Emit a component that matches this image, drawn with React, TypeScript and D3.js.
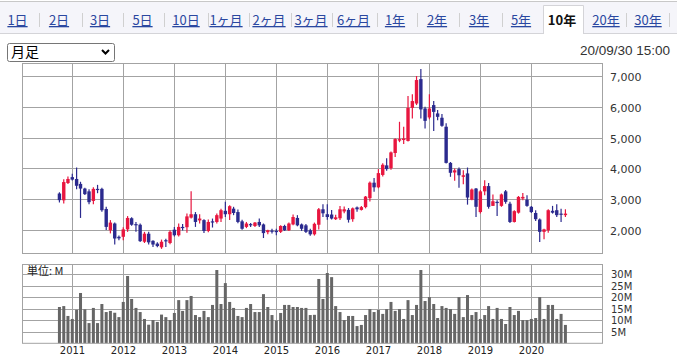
import React from "react";
import * as d3 from "d3";

// ---------- data ----------
const tabLabels = ["1日", "2日", "3日", "5日", "10日", "1ヶ月", "2ヶ月", "3ヶ月", "6ヶ月", "1年", "2年", "3年", "5年", "10年", "20年", "30年"];
const activeTab = "10年";
const chartTypeLabel = "月足";
const timestampLabel = "20/09/30 15:00";
const volumeUnitLabel = "単位: M";

const firstMonth = new Date(2010, 9, 1); // Oct 2010, one candle per month
const opens = [
  3190, 2970, 3530, 3720, 3660, 3500, 3350, 3260, 2950, 3340,
  3340, 2690, 2000, 2220, 1790, 1790, 2030, 2390, 2200, 2180,
  1630, 1890, 1660, 1570, 1450, 1680, 1590, 2020, 1840, 2110,
  2100, 2410, 2520, 2320, 2330, 1980, 2290, 2270, 2380, 2630,
  2520, 2700, 2590, 2290, 2110, 2200, 2140, 2270, 2190, 1940,
  1990, 1980, 1950, 2140, 2000, 2190, 2400, 2190, 2160, 2000,
  1870, 2180, 2680, 2520, 2510, 2360, 2390, 2610, 2660, 2360,
  2740, 2660, 2750, 3040, 3540, 3390, 3790, 4100, 4010, 4500,
  4900, 4920, 4890, 5960, 6100, 6890, 5940, 5650, 6050, 5780,
  5640, 5350, 4180, 3870, 3980, 3730, 3840, 2990, 3350, 2590,
  3260, 3430, 2790, 2920, 2790, 3260, 2860, 2270, 2570, 3030,
  2990, 2760, 2560, 2350, 1950, 2000, 2630, 2650, 2540, 2490,
];
const highs = [
  3230, 3650, 3740, 3830, 4030, 3570, 3380, 3330, 3390, 3470,
  3380, 2760, 2330, 2250, 1830, 2100, 2460, 2420, 2270, 2220,
  1950, 1950, 1680, 1610, 1700, 1730, 2000, 2110, 2220, 2200,
  2540, 3260, 2590, 2520, 2360, 2350, 2380, 2540, 2700, 2920,
  2810, 2760, 2670, 2340, 2270, 2240, 2270, 2380, 2220, 2020,
  2050, 2050, 2160, 2180, 2250, 2510, 2490, 2220, 2200, 2050,
  2250, 2720, 2840, 2840, 2660, 2500, 2790, 2770, 2720, 2740,
  2770, 2790, 3110, 3580, 3690, 3980, 4170, 4330, 4550, 4980,
  5510, 5350, 6340, 6400, 6990, 7220, 6000, 6400, 6180, 5890,
  5760, 5460, 4210, 4000, 4030, 3940, 4030, 3350, 3370, 3300,
  3620, 3530, 3160, 2970, 3190, 3300, 2920, 2650, 3110, 3210,
  3130, 2790, 2650, 2380, 2050, 2680, 2790, 2840, 2700, 2680,
];
const lows = [
  2900, 2870, 3500, 3610, 3330, 2400, 3140, 2840, 2840, 3200,
  2600, 2010, 1900, 1540, 1680, 1680, 1950, 2150, 1950, 1620,
  1590, 1540, 1460, 1450, 1400, 1460, 1550, 1800, 1800, 1990,
  1920, 2380, 2110, 2220, 1910, 1940, 2090, 2220, 2270, 2430,
  2330, 2490, 2230, 2020, 2070, 2110, 2110, 2110, 1750, 1870,
  1900, 1840, 1910, 1980, 1980, 2160, 2130, 1980, 1910, 1820,
  1830, 2030, 2430, 2340, 2350, 2330, 2330, 2550, 2250, 2280,
  2600, 2640, 2710, 2930, 3250, 3360, 3740, 3930, 3960, 4370,
  4850, 4790, 4870, 5620, 6050, 5620, 5290, 5590, 5210, 5560,
  5350, 4160, 3730, 3600, 3380, 3490, 2830, 2970, 2430, 2540,
  3130, 2700, 2790, 2460, 2760, 2860, 2240, 2250, 2540, 2970,
  2760, 2560, 2300, 1620, 1710, 1920, 2540, 2430, 2270, 2430,
];
const closes = [
  2975, 3560, 3660, 3640, 3440, 3350, 3170, 2910, 3340, 3310,
  2650, 2110, 2250, 1735, 1740, 2030, 2400, 2180, 2170, 1650,
  1890, 1610, 1540, 1490, 1630, 1650, 1950, 1840, 2110, 2080,
  2450, 2520, 2270, 2380, 1980, 2270, 2270, 2490, 2650, 2520,
  2780, 2560, 2270, 2050, 2220, 2180, 2250, 2160, 1910, 2000,
  1960, 1960, 2140, 2000, 2220, 2430, 2160, 2050, 1950, 1870,
  2210, 2680, 2550, 2430, 2380, 2420, 2680, 2680, 2340, 2710,
  2680, 2750, 3090, 3540, 3390, 3850, 4120, 3980, 4520, 4950,
  4950, 4970, 5960, 6180, 6860, 5910, 5540, 5940, 5830, 5670,
  5380, 4180, 3860, 3940, 3780, 3780, 3060, 3320, 2760, 3260,
  3430, 2760, 2940, 2900, 3160, 2920, 2270, 2620, 3080, 3080,
  2790, 2590, 2360, 1950, 2030, 2650, 2570, 2490, 2510, 2540,
];
const volumes = [
  15.8, 16.2, 11.9, 10.6, 14.6, 21.9, 14.8, 8.8, 15.4, 8.8,
  17.1, 13.6, 14.1, 13.3, 11.4, 18.0, 29.3, 19.3, 15.4, 13.6,
  10.6, 8.1, 10.1, 9.3, 12.5, 11.4, 10.1, 13.2, 18.8, 14.1,
  18.8, 20.6, 12.3, 11.4, 14.1, 11.4, 16.7, 31.9, 17.1, 26.2,
  18.0, 15.4, 11.9, 11.4, 15.4, 17.1, 13.6, 13.6, 21.4, 15.8,
  12.3, 9.9, 13.2, 16.7, 16.7, 15.8, 15.8, 15.4, 15.4, 12.3,
  12.4, 28.0, 19.3, 30.6, 28.8, 16.2, 13.6, 10.1, 11.9, 11.9,
  7.5, 8.0, 12.3, 14.9, 13.6, 14.5, 12.8, 14.9, 18.0, 14.1,
  14.9, 10.6, 18.8, 12.3, 16.7, 31.9, 18.4, 20.1, 17.1, 11.0,
  16.2, 15.4, 14.9, 12.8, 20.1, 11.4, 21.0, 12.3, 13.6, 10.6,
  12.3, 16.2, 10.6, 15.4, 10.6, 8.4, 15.8, 12.3, 14.1, 10.1,
  10.1, 10.6, 11.0, 20.1, 10.6, 16.7, 16.7, 10.6, 12.8, 8.0,
];
const priceTicks = [2000, 3000, 4000, 5000, 6000, 7000];
const volumeTicks = [5, 10, 15, 20, 25, 30];
const yearTicks = [2011, 2012, 2013, 2014, 2015, 2016, 2017, 2018, 2019, 2020];

// ---------- layout ----------
const W = 677;
const H = 356;
const plotL = 22;
const plotR = 602;
const priceTop = 63;
const priceBottom = 253;
const volTop = 264.5;
const volBottom = 343.3;

const tabCenters = [17.5, 59, 100, 142.5, 186, 226, 269, 311, 353.5, 395, 437, 479, 521, 562, 606, 648];
const tabSeparators = [39, 82, 123, 164, 208, 249, 291, 332, 377, 417, 459, 502, 626, 669];

const UP = "#e8163f";
const DOWN = "#2b2a8e";
const GRID = "#a3a3a3";

export default function App() {
  const months = opens.map((_, i) => d3.timeMonth.offset(firstMonth, i));
  const x = d3
    .scaleTime()
    .domain([new Date(2010, 0, 6), new Date(2021, 4, 21)])
    .range([plotL, plotR]);
  const yP = d3.scaleLinear().domain([1266, 7411]).range([priceBottom, priceTop]);
  const yV = d3.scaleLinear().domain([0, 34.3]).range([volBottom, volTop]);
  const yearX = (yr: number) => Math.round(x(new Date(yr, 0, 1))) + 0.5;
  const fmt = d3.format(",");

  const candleW = 3.4;
  const volW = 3;

  return (
    <svg
      width={W}
      height={H}
      style={{ position: "absolute", left: 0, top: 0, background: "#fff" }}
      fontFamily="'DejaVu Sans', sans-serif"
    >
      {/* tab bar */}
      <rect x={0} y={1} width={W} height={32} fill="#f5f5fa" />
      <line x1={0} x2={W} y1={1.5} y2={1.5} stroke="#c8c8c8" />
      <line x1={0} x2={W} y1={33.5} y2={33.5} stroke="#d4d4d8" />
      <path d="M543.5,34 V5.5 H583.5 V34" fill="#fff" stroke="#d4d4d8" />
      {tabSeparators.map((sx, i) => (
        <line key={i} x1={sx + 0.5} x2={sx + 0.5} y1={13} y2={27} stroke="#d0d0d0" />
      ))}
      {tabLabels.map((t, i) => {
        const active = t === activeTab;
        return (
          <text
            key={t}
            x={tabCenters[i]}
            y={25}
            textAnchor="middle"
            fontSize={13}
            fontFamily="'Noto Sans CJK JP', sans-serif"
            fontWeight={active ? 700 : 400}
            fill={active ? "#111" : "#2a47a0"}
            style={{ textDecoration: active ? "none" : "underline" }}
          >
            {t}
          </text>
        );
      })}

      {/* dropdown */}
      <rect x={7.5} y={43.5} width={107} height={18} rx={2} fill="#fff" stroke="#767676" />
      <text x={11} y={57} fontSize={14} fontFamily="'Noto Sans CJK JP', sans-serif" fill="#000">
        {chartTypeLabel}
      </text>
      <path d="M102,50 L105.5,53.5 L109,50" fill="none" stroke="#000" strokeWidth={2} />

      {/* timestamp */}
      <text x={670} y={55} textAnchor="end" fontSize={13.5} fontFamily="'Liberation Sans', Arial, sans-serif" fill="#333">
        {timestampLabel}
      </text>

      {/* price panel grid */}
      {priceTicks.map((p) => {
        const y = Math.round(yP(p)) + 0.5;
        return (
          <g key={p}>
            <line x1={plotL} x2={plotR} y1={y} y2={y} stroke={GRID} />
            <text x={610} y={y + 4} fontSize={11} fill="#333">
              {fmt(p)}
            </text>
          </g>
        );
      })}
      {yearTicks.map((yr) => (
        <line key={yr} x1={yearX(yr)} x2={yearX(yr)} y1={priceTop} y2={priceBottom} stroke={GRID} />
      ))}
      <rect x={plotL + 0.5} y={priceTop + 0.5} width={plotR - plotL} height={priceBottom - priceTop} fill="none" stroke={GRID} />

      {/* candles */}
      {months.map((m, i) => {
        const cx = x(m);
        const o = opens[i];
        const c = closes[i];
        const up = c >= o;
        const col = up ? UP : DOWN;
        const top = yP(Math.max(o, c));
        const bot = yP(Math.min(o, c));
        return (
          <g key={i}>
            <line x1={cx} x2={cx} y1={yP(highs[i])} y2={yP(lows[i])} stroke={col} strokeWidth={1.2} />
            <rect x={cx - candleW / 2} y={top} width={candleW} height={Math.max(1.2, bot - top)} fill={col} />
          </g>
        );
      })}

      {/* volume panel */}
      {volumeTicks.map((v) => {
        const y = Math.round(yV(v)) + 0.5;
        return (
          <g key={v}>
            <line x1={plotL} x2={plotR} y1={y} y2={y} stroke={GRID} />
            <text x={611} y={y + 3.5} fontSize={10} fill="#333">
              {v}M
            </text>
          </g>
        );
      })}
      {yearTicks.map((yr) => (
        <g key={yr}>
          <line x1={yearX(yr)} x2={yearX(yr)} y1={volTop} y2={volBottom} stroke={GRID} />
          <text x={yearX(yr)} y={353.5} textAnchor="middle" fontSize={10} fill="#222">
            {yr}
          </text>
        </g>
      ))}
      {months.map((m, i) => {
        const cx = x(m);
        return (
          <rect key={i} x={cx - volW / 2} y={yV(volumes[i])} width={volW} height={volBottom - yV(volumes[i])} fill="#666" />
        );
      })}
      <rect x={plotL + 0.5} y={volTop} width={plotR - plotL} height={volBottom - volTop} fill="none" stroke={GRID} />
      <text x={27} y={275} fontSize={11} fontFamily="'Noto Sans CJK JP', sans-serif" fill="#222">
        {volumeUnitLabel}
      </text>
    </svg>
  );
}
